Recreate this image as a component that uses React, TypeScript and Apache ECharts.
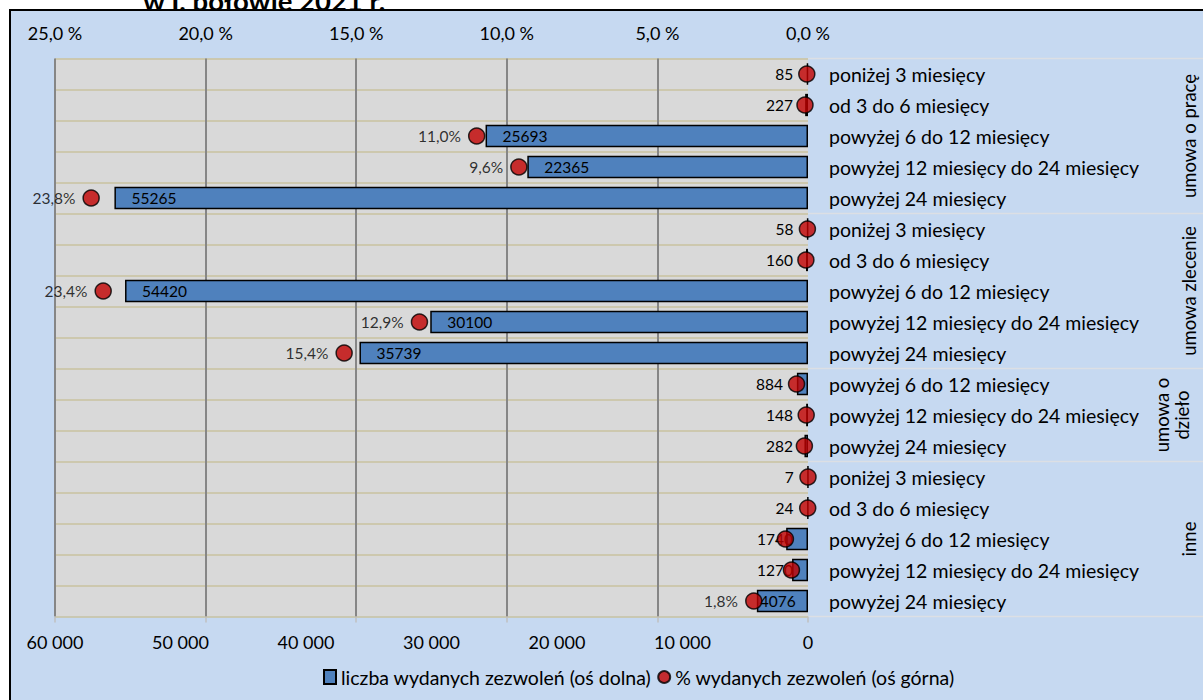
import React, { useEffect, useRef } from "react";
import * as echarts from "echarts";

const rowLabels = [
  "poniżej 3 miesięcy",
  "od 3 do 6 miesięcy",
  "powyżej 6 do 12 miesięcy",
  "powyżej 12 miesięcy do 24 miesięcy",
  "powyżej 24 miesięcy",
  "poniżej 3 miesięcy",
  "od 3 do 6 miesięcy",
  "powyżej 6 do 12 miesięcy",
  "powyżej 12 miesięcy do 24 miesięcy",
  "powyżej 24 miesięcy",
  "powyżej 6 do 12 miesięcy",
  "powyżej 12 miesięcy do 24 miesięcy",
  "powyżej 24 miesięcy",
  "poniżej 3 miesięcy",
  "od 3 do 6 miesięcy",
  "powyżej 6 do 12 miesięcy",
  "powyżej 12 miesięcy do 24 miesięcy",
  "powyżej 24 miesięcy",
];
const groupNames = ["umowa o pracę", "umowa zlecenie", "umowa o\ndzieło", "inne"];
const groupSizes = [5, 5, 3, 5];

const counts = [85, 227, 25693, 22365, 55265, 58, 160, 54420, 30100, 35739, 884, 148, 282, 7, 24, 1740, 1270, 4076];
const pcts = [0.04, 0.1, 11.0, 9.6, 23.8, 0.02, 0.07, 23.4, 12.9, 15.4, 0.38, 0.06, 0.12, 0.0, 0.01, 0.75, 0.55, 1.8];

const seriesNames = ["liczba wydanych zezwoleń (oś dolna)", "% wydanych zezwoleń (oś górna)"];
const titleText = "w I. połowie 2021 r.";

const FONT = "Lato";

const fmtThousands = (v: number) => String(v).replace(/\B(?=(\d{3})+(?!\d))/g, " ");
const fmtPct = (v: number) => v.toFixed(1).replace(".", ",");

export default function App() {
  const ref = useRef<HTMLDivElement>(null);
  useEffect(() => {
    document.body.style.margin = "0";
    const el = ref.current!;
    const chart = echarts.init(el, null, { renderer: "svg" });

    const barData = counts.map((v) => {
      let label: any;
      if (v >= 10000) label = { position: "insideLeft", distance: 17 };
      else if (v >= 3000) label = { position: "insideLeft", distance: 3 };
      else if (v >= 500 && v < 1000) label = { position: "insideRight", distance: 25 };
      else label = { position: "insideRight", distance: 15 };
      return { value: v, label };
    });

    const baseGraphic = [
      {
        type: "text",
        z: -2,
        left: 143,
        top: -14,
        style: { text: titleText, fontSize: 27.5, fontWeight: "bold", fontFamily: FONT, fill: "#000" },
      },
      {
        type: "rect",
        z: -1,
        shape: { x: 10, y: 10, width: 1300, height: 800 },
        style: { fill: "#C6D9F1", stroke: "#000", lineWidth: 2 },
      },
    ];

    const option: any = {
      animation: false,
      backgroundColor: "#fff",
      textStyle: { fontFamily: FONT },
      grid: { left: 55, right: 395, top: 58.5, bottom: 83.5, show: true, backgroundColor: "#D9D9D9", borderWidth: 0 },
      legend: {
        left: 318,
        top: 662,
        itemGap: 6,
        itemWidth: 12,
        itemHeight: 14,
        textStyle: { fontSize: 19.5, color: "#000", fontFamily: FONT },
        data: [
          { name: seriesNames[0], icon: "rect" },
          { name: seriesNames[1], icon: "circle" },
        ],
      },
      xAxis: [
        {
          type: "value",
          min: 0,
          max: 60000,
          interval: 10000,
          inverse: true,
          position: "bottom",
          axisLine: { show: false },
          axisTick: { show: false },
          splitLine: { show: false },
          axisLabel: { formatter: fmtThousands, fontSize: 18, color: "#000", margin: 16, fontFamily: FONT },
        },
        {
          type: "value",
          min: 0,
          max: 25,
          interval: 5,
          inverse: true,
          position: "top",
          axisLine: { show: false },
          axisTick: { show: false },
          splitLine: { show: true, showMinLine: false, lineStyle: { color: "#868686", width: 2 } },
          axisLabel: { formatter: (v: number) => fmtPct(v) + " %", fontSize: 18, color: "#000", margin: 17, fontFamily: FONT },
        },
        {
          type: "value",
          min: 0,
          max: 25,
          interval: 5,
          inverse: true,
          position: "bottom",
          axisLine: { show: false },
          axisTick: { show: true, length: 6, lineStyle: { color: "#BFBFBF", width: 1.5 } },
          splitLine: { show: false },
          axisLabel: { show: false },
        },
      ],
      yAxis: {
        type: "category",
        inverse: true,
        position: "right",
        data: rowLabels.map((_, i) => String(i)),
        axisLine: { show: false },
        axisTick: { show: false },
        splitLine: { show: true, interval: 0, lineStyle: { color: "#C9C29F", width: 1.5 } },
        axisLabel: {
          interval: 0,
          formatter: (_v: string, i: number) => rowLabels[i],
          align: "left",
          margin: 21,
          fontSize: 19.5,
          color: "#000",
          fontFamily: FONT,
        },
      },
      series: [
        {
          name: seriesNames[0],
          type: "bar",
          xAxisIndex: 0,
          barWidth: "72%",
          data: barData,
          itemStyle: { color: "#4F81BD", borderColor: "#000", borderWidth: 1.5 },
          label: { show: true, color: "#000", fontSize: 15.5, fontFamily: FONT, formatter: "{c}" },
          z: 2,
        },
        {
          name: seriesNames[1],
          type: "scatter",
          xAxisIndex: 1,
          data: pcts,
          symbol: "circle",
          symbolSize: 16,
          itemStyle: { color: "#C00000", borderColor: "#000", borderWidth: 1.5 },
          label: {
            show: true,
            position: "left",
            distance: 7,
            color: "#000",
            fontSize: 15.5,
            fontFamily: FONT,
            formatter: (p: any) => (p.value >= 1 ? fmtPct(p.value) + "%" : ""),
          },
          z: 3,
        },
      ],
      graphic: { elements: baseGraphic },
    };

    chart.setOption(option);

    const yc = (i: number) => chart.convertToPixel({ yAxisIndex: 0 }, i) as number;
    const band = yc(1) - yc(0);
    const x0 = chart.convertToPixel({ xAxisIndex: 0 }, 0) as number;
    const extra: any[] = [];
    let start = 0;
    const boundaries: number[] = [yc(0) - band / 2];
    groupNames.forEach((g, gi) => {
      const end = start + groupSizes[gi] - 1;
      const top = yc(start) - band / 2;
      const bottom = yc(end) + band / 2;
      boundaries.push(bottom);
      const multi = g.includes("\n");
      extra.push({
        type: "text",
        x: multi ? 1172 : 1189,
        y: (top + bottom) / 2,
        rotation: Math.PI / 2,
        style: {
          text: g,
          fontSize: 18.5,
          fontFamily: FONT,
          fill: "#000",
          align: "center",
          verticalAlign: "middle",
          lineHeight: 20,
        },
      });
      start = end + 1;
    });
    boundaries.forEach((b) => {
      extra.push({
        type: "line",
        shape: { x1: x0, y1: b, x2: 1210, y2: b },
        style: { stroke: "#DCDFE4", lineWidth: 1.5 },
      });
    });

    chart.setOption({ graphic: { elements: [...baseGraphic, ...extra] } });

    return () => chart.dispose();
  }, []);
  return <div ref={ref} style={{ width: 1203, height: 700 }} />;
}
